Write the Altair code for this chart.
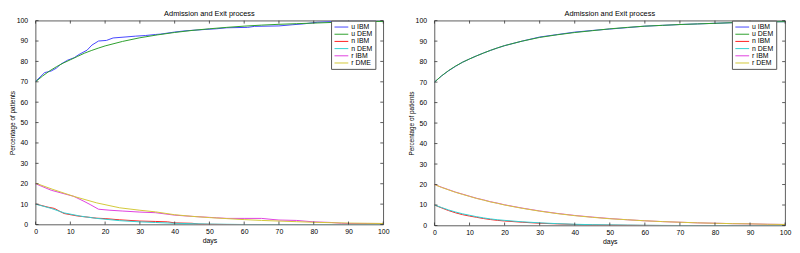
import altair as alt
import pandas as pd

FONT = "Liberation Sans"

# ---------------- Left panel data ----------------
L_uIBM_days = [0, 2.6, 4.5, 5.9, 7.3, 9.2, 11.1, 12.5, 14.8, 16.2, 18.1, 20.4, 22.3, 26, 28.8, 31.6, 34.5,
               36, 40, 43, 49, 52, 55, 61, 63, 70, 74, 77, 81, 85, 88, 92, 100]
L_uIBM_vals = [70.2, 74.5, 75.3, 76.6, 78.7, 80.6, 81.8, 83.4, 85.5, 88, 90, 90.3, 91.5, 92, 92.4, 92.7, 93.2,
               93.4, 94.4, 95, 95.7, 96, 96.5, 96.7, 97.2, 97.4, 98, 98.4, 99.2, 99.5, 99.7, 99.7, 99.8]
L_uDEM_days = [0, 2, 4, 6, 8, 10, 12, 14, 16, 18, 20, 25, 30, 35, 40, 45, 50, 55, 60, 65, 70, 75, 80, 85, 90, 95, 100]
L_uDEM_vals = [70, 72.8, 75.3, 77.4, 79.2, 80.8, 82.4, 84, 85.3, 86.5, 87.6, 89.8, 91.6, 93, 94.2, 95.2, 96,
               96.7, 97.3, 97.8, 98.2, 98.5, 98.8, 99.1, 99.3, 99.5, 99.6]
L_nIBM_days = [0, 3.6, 5.4, 6.8, 8.2, 12, 17.6, 20, 24.2, 30, 34.5, 38, 40, 45, 47, 50, 55, 100]
L_nIBM_vals = [10.1, 8.5, 7.9, 6.6, 5.4, 4.2, 3.1, 2.9, 2.3, 1.7, 1.5, 1.3, 0.8, 0.6, 0.2, 0.1, 0, 0]
L_nDEM_days = [0, 4.5, 8.2, 12.9, 17.6, 24.2, 30, 34.5, 40, 45, 50, 55, 60, 100]
L_nDEM_vals = [10, 7.9, 5.7, 4.1, 3, 1.9, 1.3, 1, 0.6, 0.4, 0.2, 0.1, 0, 0]
L_rIBM_days = [0, 4.5, 11, 13.9, 15.7, 18.1, 21.4, 25.1, 30, 34.5, 40, 45, 50, 52, 55, 60, 65, 68, 70, 75,
               80, 85, 88, 90, 100]
L_rIBM_vals = [20, 16.8, 13.8, 11.4, 9.8, 7.5, 7, 6.6, 6.1, 5.8, 4.6, 4, 3.5, 3.3, 3, 3, 3, 2.5, 2.2, 2,
               1.3, 1, 0.6, 0.5, 0.5]
L_rDME_days = [0, 5, 11, 17.6, 24.2, 30, 34.5, 40, 45, 50, 55, 60, 65, 70, 75, 80, 85, 90, 95, 100]
L_rDME_vals = [20.3, 17.2, 13.8, 10.6, 8.2, 7, 6.2, 4.8, 4, 3.4, 2.9, 2.4, 2, 1.7, 1.4, 1.1, 0.9, 0.7, 0.6, 0.5]

# ---------------- Right panel data ----------------
R_days = [0, 2, 4, 6, 8, 10, 12, 14, 16, 18, 20, 25, 30, 35, 40, 45, 50, 55, 60, 65, 70, 75, 80, 85, 90, 95, 100]
R_uIBM_vals = [70, 73, 75.5, 77.7, 79.7, 81.3, 82.8, 84.2, 85.5, 86.7, 87.8, 90, 92, 93.2, 94.4, 95.2, 95.9,
               96.6, 97.3, 97.7, 98.1, 98.4, 98.7, 99, 99.2, 99.4, 99.5]
R_uDEM_vals = [70, 73, 75.6, 77.8, 79.7, 81.3, 82.8, 84.2, 85.5, 86.7, 87.8, 90, 91.8, 93.1, 94.2, 95.1, 96,
               96.7, 97.3, 97.7, 98.1, 98.4, 98.7, 99, 99.2, 99.4, 99.5]
R_nIBM_vals = [10, 8.6, 7.3, 6.2, 5.3, 4.6, 4, 3.4, 2.9, 2.5, 2.2, 1.6, 1.1, 0.8, 0.5, 0.3, 0.2, 0.1, 0.05,
               0, 0, 0, 0, 0, 0, 0, 0]
R_nDEM_vals = [10, 8.8, 7.6, 6.6, 5.7, 5, 4.3, 3.7, 3.2, 2.8, 2.5, 1.8, 1.3, 0.9, 0.6, 0.4, 0.3, 0.2, 0.1,
               0.05, 0, 0, 0, 0, 0, 0, 0]
R_rIBM_vals = [20, 18.7, 17.5, 16.3, 15.3, 14.3, 13.3, 12.5, 11.6, 10.9, 10.1, 8.5, 7.1, 5.9, 4.9, 4.1, 3.4,
               2.8, 2.3, 1.9, 1.6, 1.3, 1.1, 0.9, 0.8, 0.6, 0.5]
R_rDEM_vals = [20, 18.6, 17.4, 16.2, 15.2, 14.2, 13.2, 12.4, 11.5, 10.8, 10, 8.4, 7, 5.8, 4.8, 4, 3.3,
               2.8, 2.3, 1.9, 1.6, 1.3, 1.1, 0.9, 0.8, 0.6, 0.5]

L_names = ["u IBM", "u DEM", "n IBM", "n DEM", "r IBM", "r DME"]
R_names = ["u IBM", "u DEM", "n IBM", "n DEM", "r IBM", "r DEM"]
COLORS = ["#4545ff", "#2ca02c", "#ff2020", "#30d0d0", "#e040e0", "#d2c838"]

tick_vals = [0, 10, 20, 30, 40, 50, 60, 70, 80, 90, 100]
TITLE = "Admission and Exit process"
XLABEL = "days"
YLABEL = "Percentage of patients"


def frame(rows):
    out = []
    for i, (name, days, vals) in enumerate(rows):
        for d, v in zip(days, vals):
            out.append({"series": name, "order": i, "day": d, "pct": v})
    return pd.DataFrame(out)


L_df = frame([
    ("u IBM", L_uIBM_days, L_uIBM_vals), ("u DEM", L_uDEM_days, L_uDEM_vals),
    ("n IBM", L_nIBM_days, L_nIBM_vals), ("n DEM", L_nDEM_days, L_nDEM_vals),
    ("r IBM", L_rIBM_days, L_rIBM_vals), ("r DME", L_rDME_days, L_rDME_vals),
])
R_df = frame([
    ("u IBM", R_days, R_uIBM_vals), ("u DEM", R_days, R_uDEM_vals),
    ("n IBM", R_days, R_nIBM_vals), ("n DEM", R_days, R_nDEM_vals),
    ("r IBM", R_days, R_rIBM_vals), ("r DEM", R_days, R_rDEM_vals),
])
ticks_df = pd.DataFrame({"day": tick_vals, "pct": tick_vals})

AX = alt.Axis(values=tick_vals, ticks=False, domain=False, grid=False,
              labelOverlap=False, labelFlush=False, labelSeparation=0,
              labelPadding=3, titlePadding=2, labelFontSize=7, titleFontSize=7,
              labelFont=FONT, titleFont=FONT, titleFontWeight="normal",
              labelColor="#000", titleColor="#000")
AY = alt.Axis(values=tick_vals, ticks=False, domain=False, grid=False,
              labelOverlap=False, labelFlush=False, labelSeparation=0,
              labelPadding=8, titlePadding=1, labelFontSize=7, titleFontSize=6.5,
              labelFont=FONT, titleFont=FONT, titleFontWeight="normal",
              labelColor="#000", titleColor="#000")


def panel(df, names, W, H, legx, legy):
    xs = alt.Scale(domain=[0, 100], nice=False)
    ys = alt.Scale(domain=[0, 100], nice=False)
    X = alt.X("day:Q", scale=xs, title=XLABEL, axis=AX)
    Y = alt.Y("pct:Q", scale=ys, title=YLABEL, axis=AY)
    lines = alt.Chart(df).mark_line(strokeWidth=1, clip=True).encode(
        x=X, y=Y,
        color=alt.Color("series:N", scale=alt.Scale(domain=names, range=COLORS),
                        legend=alt.Legend(orient="none", legendX=legx, legendY=legy, title=None,
                                          symbolType="M-2,0L2,0", symbolSize=49, symbolStrokeWidth=1,
                                          symbolOffset=4, labelOffset=6,
                                          labelFontSize=7, labelFont=FONT, labelColor="#000",
                                          fillColor="white", strokeColor="#555", padding=2.5,
                                          rowPadding=0.3, labelLimit=60)),
        order=alt.Order("order:Q"),
        detail="series:N",
    )
    tk = dict(color="#333", strokeWidth=0.8)
    top = alt.Chart(ticks_df).mark_rule(**tk).encode(x=X, y=alt.value(0), y2=alt.value(3))
    bot = alt.Chart(ticks_df).mark_rule(**tk).encode(x=X, y=alt.value(H), y2=alt.value(H - 3))
    lft = alt.Chart(ticks_df).mark_rule(**tk).encode(y=Y, x=alt.value(0), x2=alt.value(3))
    rgt = alt.Chart(ticks_df).mark_rule(**tk).encode(y=Y, x=alt.value(W), x2=alt.value(W - 3))
    return alt.layer(lines, top, bot, lft, rgt).properties(
        width=W, height=H,
        title=alt.TitleParams(TITLE, fontSize=7.5, font=FONT, fontWeight="normal", color="#000",
                              offset=-1, anchor="middle"),
    )


left = panel(L_df, L_names, 353, 207, 300, 0)
right = panel(R_df, R_names, 356, 208, 302, 0)

chart = alt.hconcat(left, right, spacing=17).resolve_scale(color="independent").resolve_legend(
    color="independent").configure_view(stroke="#333", strokeWidth=0.8).properties(
    padding=0, background="white")

chart.save("out.html", embed_options={"renderer": "svg", "actions": False})
